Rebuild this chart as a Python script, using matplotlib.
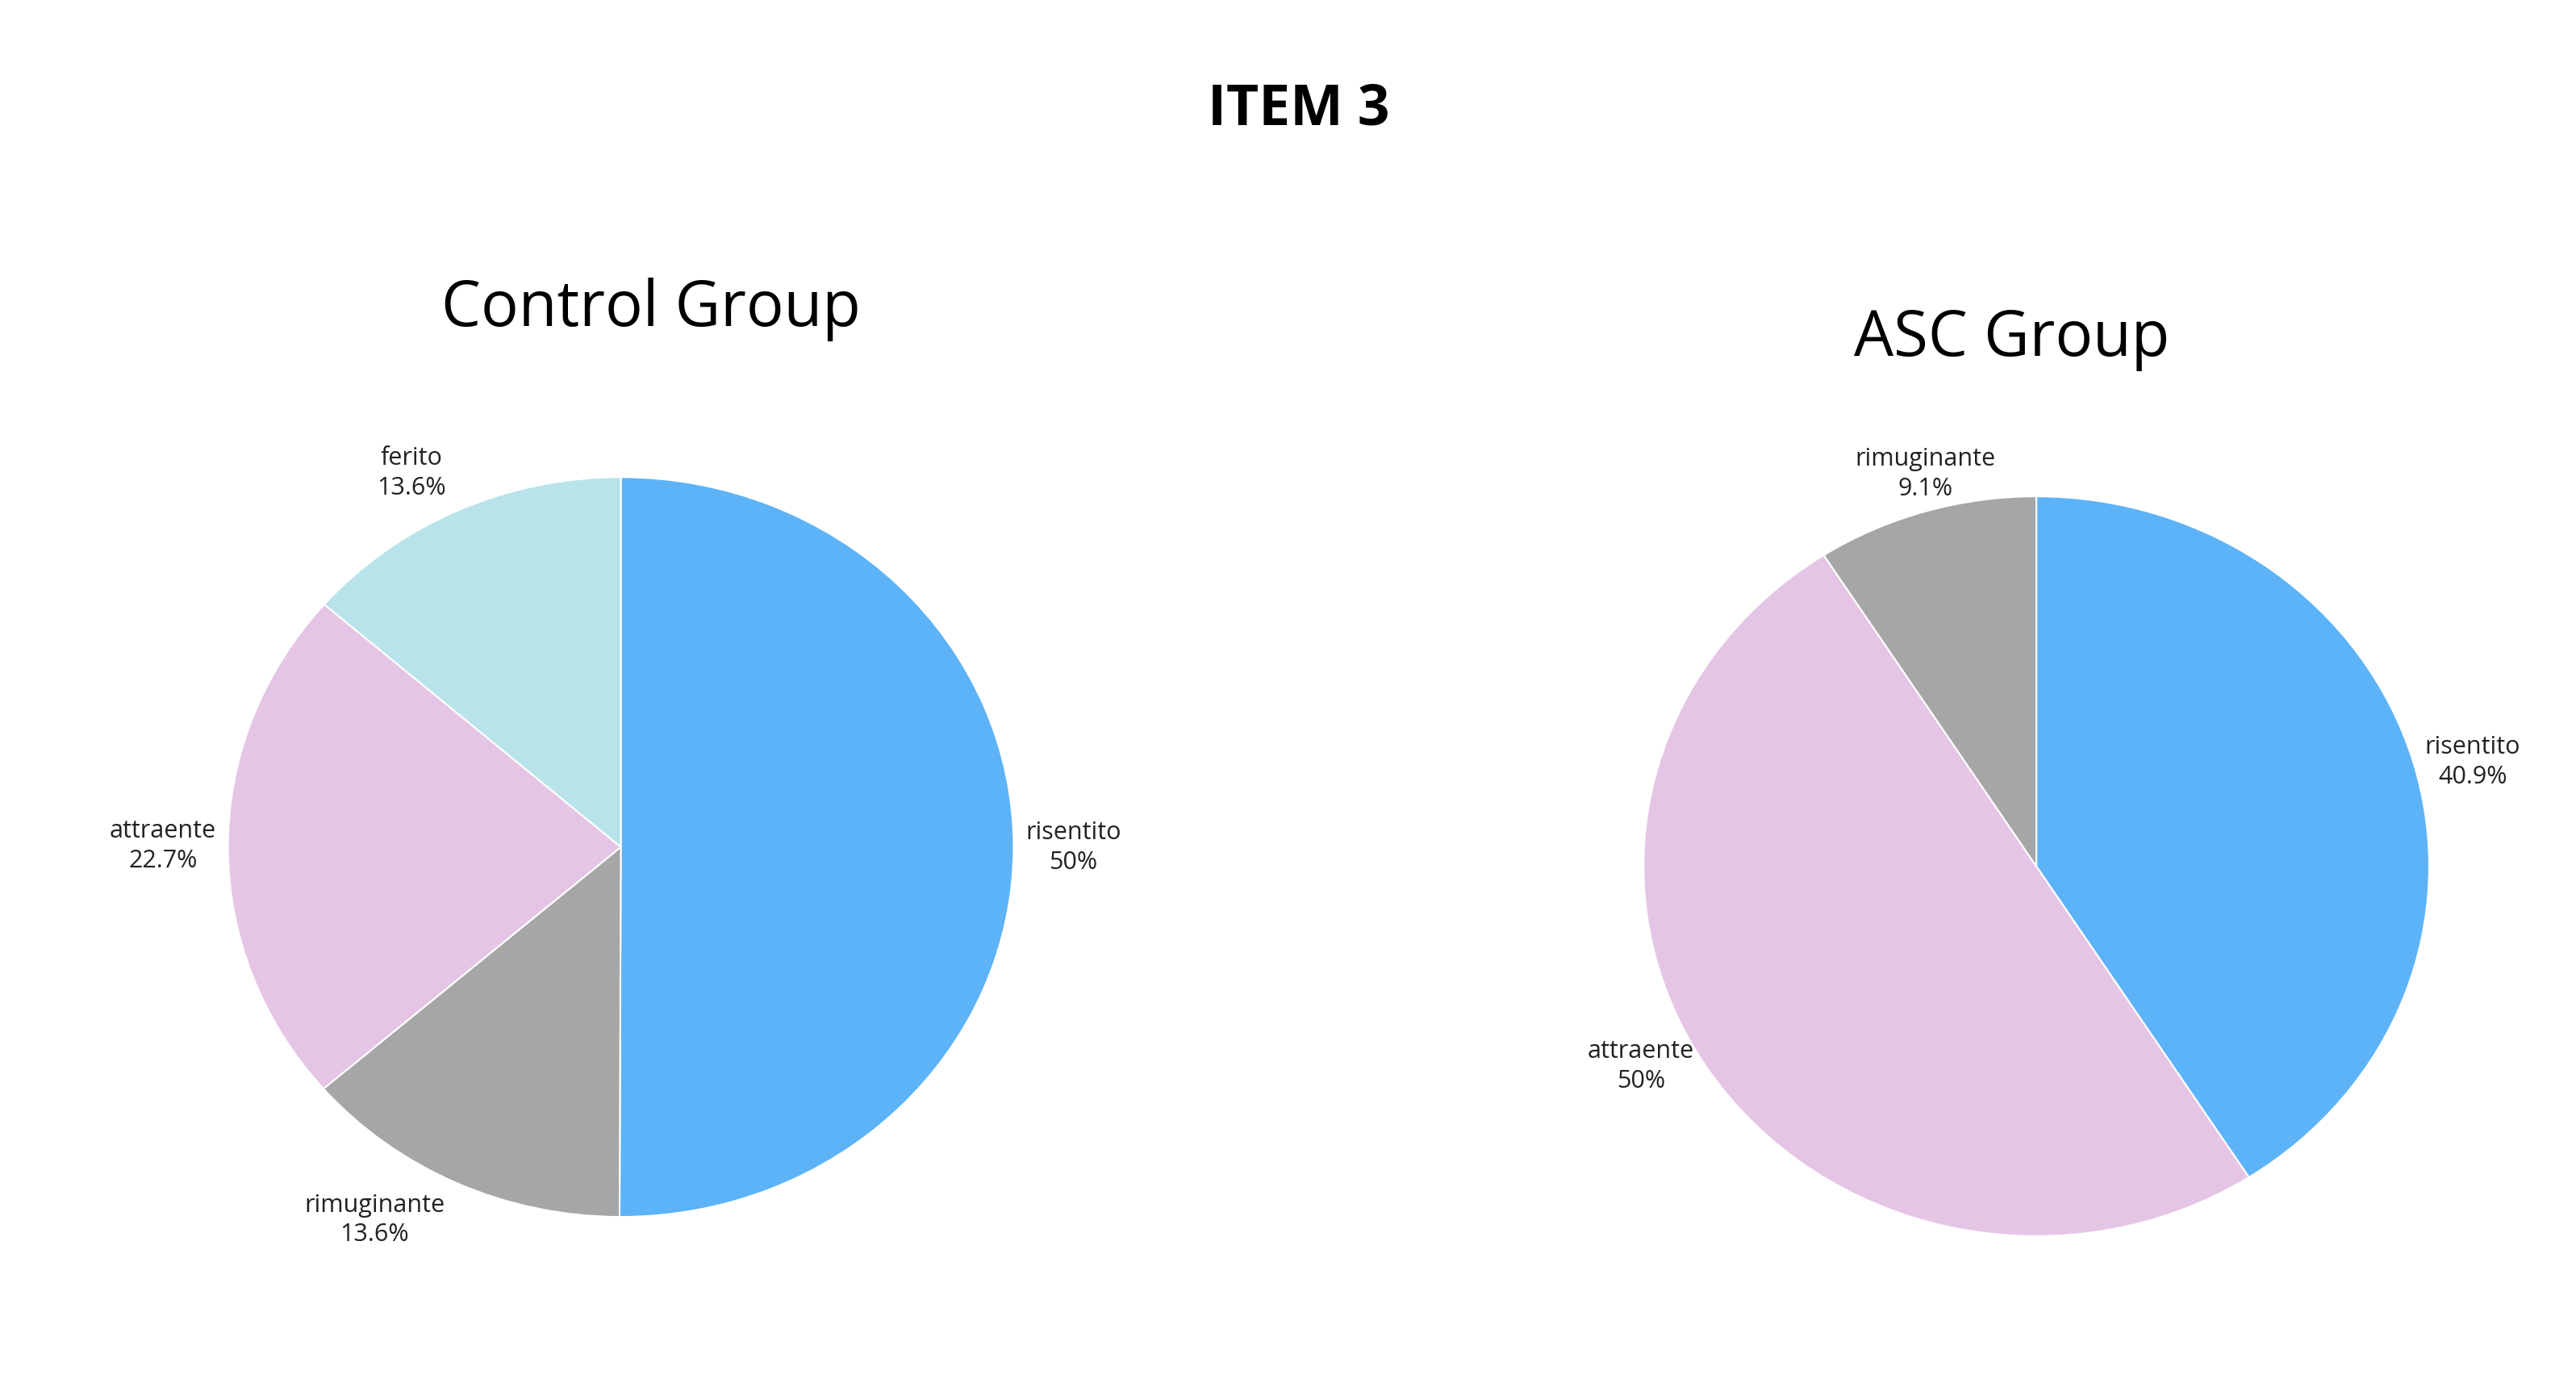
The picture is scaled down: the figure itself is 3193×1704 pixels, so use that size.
import matplotlib
matplotlib.use("Agg")
import matplotlib.pyplot as plt
import numpy as np

ctrl_labels = ["risentito", "rimuginante", "attraente", "ferito"]
ctrl_values = [50.0, 13.6, 22.7, 13.6]
ctrl_pct = ["50%", "13.6%", "22.7%", "13.6%"]
asc_labels = ["risentito", "attraente", "rimuginante"]
asc_values = [40.9, 50.0, 9.1]
asc_pct = ["40.9%", "50%", "9.1%"]

colors = {"risentito": "#5DB3F7", "rimuginante": "#A6A6A6",
          "attraente": "#E5C5E5", "ferito": "#B8E3EB"}

plt.rcParams['font.family'] = ['Open Sans', 'DejaVu Sans']
fig = plt.figure(figsize=(31.93, 17.04), dpi=100)

def draw(rect, labels, values, pcts):
    ax = fig.add_axes(rect)
    wedges, _ = ax.pie(values, colors=[colors[l] for l in labels], startangle=90,
                       counterclock=False, radius=1,
                       wedgeprops=dict(linewidth=1.5, edgecolor="white"))
    ax.set_aspect('auto')
    ax.set_xlim(-1, 1); ax.set_ylim(-1, 1)
    for w, l, p in zip(wedges, labels, pcts):
        ang = np.deg2rad((w.theta1 + w.theta2) / 2)
        x, y = 1.0 * np.cos(ang), 1.0 * np.sin(ang)
        ha = 'left' if x > 0.3 else ('right' if x < -0.3 else 'center')
        dx = 0.03 if ha == 'left' else (-0.03 if ha == 'right' else 0)
        dy = 0.1 if y > 0.8 else (-0.1 if y < -0.8 else 0)
        ax.text(x + dx, y + dy, f"{l}\n{p}", ha=ha, va='center', fontsize=22,
                multialignment='center', linespacing=1.3, color="#222222")
    ax.axis('off')

draw([0.0885, 0.115, 0.305, 0.538], ctrl_labels, ctrl_values, ctrl_pct)
draw([0.638, 0.101, 0.305, 0.538], asc_labels, asc_values, asc_pct)

fig.text(0.2526, 0.775, "Control Group", ha='center', va='center', fontsize=56)
fig.text(0.781, 0.753, "ASC Group", ha='center', va='center', fontsize=56)
fig.text(0.504, 0.92, "ITEM 3", ha='center', va='center', fontsize=50, fontweight='bold')

fig.savefig("out.png", dpi=100, facecolor="white")
